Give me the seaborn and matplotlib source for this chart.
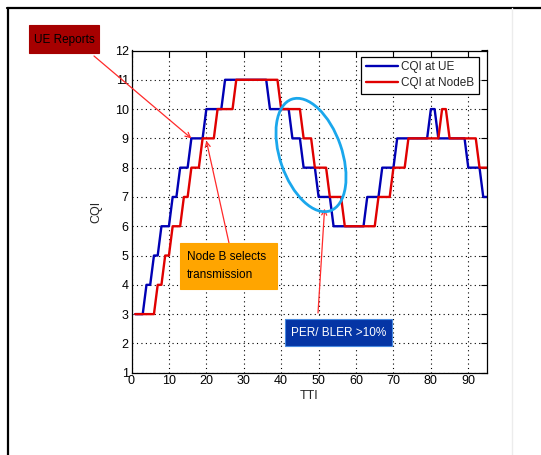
import matplotlib
matplotlib.use("Agg")
import matplotlib.pyplot as plt
import pandas as pd
import seaborn as sns
from matplotlib.patches import Ellipse, Rectangle
from matplotlib.lines import Line2D
from matplotlib.transforms import IdentityTransform

# ---------------- data ----------------
tti = list(range(1, 96))
cqi_ue = [3, 3, 3, 4, 4, 5, 5, 6, 6, 6,
          7, 7, 8, 8, 8, 9, 9, 9, 9, 10,
          10, 10, 10, 10, 11, 11, 11, 11, 11, 11,
          11, 11, 11, 11, 11, 11, 10, 10, 10, 10,
          10, 10, 9, 9, 9, 8, 8, 8, 8, 7,
          7, 7, 7, 6, 6, 6, 6, 6, 6, 6,
          6, 6, 7, 7, 7, 7, 8, 8, 8, 8,
          9, 9, 9, 9, 9, 9, 9, 9, 9, 10,
          10, 9, 9, 9, 9, 9, 9, 9, 9, 8,
          8, 8, 8, 7, 7]
cqi_nodeb = [3, 3, 3, 3, 3, 3, 4, 4, 5, 5,
             6, 6, 6, 7, 7, 8, 8, 8, 9, 9,
             9, 9, 10, 10, 10, 10, 10, 11, 11, 11,
             11, 11, 11, 11, 11, 11, 11, 11, 11, 10,
             10, 10, 10, 10, 10, 9, 9, 9, 8, 8,
             8, 8, 7, 7, 7, 7, 6, 6, 6, 6,
             6, 6, 6, 6, 6, 7, 7, 7, 7, 8,
             8, 8, 8, 9, 9, 9, 9, 9, 9, 9,
             9, 9, 10, 10, 9, 9, 9, 9, 9, 9,
             9, 9, 8, 8, 8]
series_names = ["CQI at UE", "CQI at NodeB"]
series_colors = ["#0000b4", "#e00000"]
x_ticks = [0, 10, 20, 30, 40, 50, 60, 70, 80, 90]
y_ticks = [1, 2, 3, 4, 5, 6, 7, 8, 9, 10, 11, 12]
label_ue = "UE Reports"
label_nodeb = "Node B selects\ntransmission"
label_per = "PER/ BLER >10%"

df = pd.DataFrame({
    "TTI": tti + tti,
    "CQI": cqi_ue + cqi_nodeb,
    "series": [series_names[0]] * len(tti) + [series_names[1]] * len(tti),
})

# ---------------- style ----------------
sns.set_style("white")
plt.rcParams["font.family"] = ["Liberation Sans", "DejaVu Sans"]

W, H = 541, 455
fig = plt.figure(figsize=(W / 100, H / 100), dpi=100)
fig.patch.set_facecolor("white")

L, R, T, B = 131.5, 487.0, 50.5, 372.7
ax = fig.add_axes([L / W, 1 - B / H, (R - L) / W, (B - T) / H])

sns.lineplot(data=df, x="TTI", y="CQI", hue="series",
             palette=dict(zip(series_names, series_colors)),
             hue_order=series_names, linewidth=1.7, ax=ax, legend=False)

ax.set_xlim(0, 95)
ax.set_ylim(1, 12)
ax.set_xticks(x_ticks)
ax.set_yticks(y_ticks)
ax.grid(True, linestyle=(0, (1, 3)), color="black", linewidth=0.8)
ax.tick_params(direction="in", top=True, right=True, length=4, width=0.8,
               labelsize=9, pad=2, colors="black")
for s in ax.spines.values():
    s.set_color("black")
    s.set_linewidth(0.9)
ax.set_xlabel("TTI", fontsize=9, labelpad=2)
ax.set_ylabel("CQI", fontsize=9, labelpad=9)

handles = [Line2D([0], [0], color=c, lw=1.7) for c in series_colors]
leg = ax.legend(handles, series_names, loc="upper right",
                bbox_to_anchor=(0.978, 0.981), borderaxespad=0,
                fancybox=False, edgecolor="black", framealpha=1,
                fontsize=8.5, handlelength=2.7, handletextpad=0.3,
                borderpad=0.4, labelspacing=0.3)
leg.get_frame().set_linewidth(0.9)

# ---------------- annotations (figure pixel coords, y from top) ----------------
ident = IdentityTransform()


def P(x, y):
    return (x, H - y)


def box(x0, y0, x1, y1, color, ec=None):
    fig.add_artist(Rectangle(P(x0, y1), x1 - x0, y1 - y0, transform=ident,
                             facecolor=color, edgecolor=ec or color, lw=0.8))


# outer frame
fig.add_artist(Line2D([7, W], [H - 8, H - 8], transform=ident, color="black", lw=1.6))
fig.add_artist(Line2D([8, 8], [0, H - 8], transform=ident, color="black", lw=1.6))
fig.add_artist(Line2D([512, 512], [0, H - 8], transform=ident, color="#ececec", lw=1))

# UE reports
box(29, 25, 99, 53, "#a60000")
fig.text(*P(64, 39.5), label_ue, transform=ident, ha="center", va="center",
         fontsize=8.5, color="black")
ax.annotate("", xy=(16, 9), xycoords="data", xytext=P(94, 56),
            textcoords="figure pixels",
            arrowprops=dict(arrowstyle="->", color="#ff2a2a", lw=0.9,
                            shrinkA=0, shrinkB=0, mutation_scale=9))

# Node B selects
box(180, 243, 277, 289, "#ffa500")
fig.text(*P(187, 266), label_nodeb, transform=ident, ha="left", va="center",
         fontsize=8.5, color="black", linespacing=1.6)
ax.annotate("", xy=(20, 8.92), xycoords="data", xytext=P(229, 243),
            textcoords="figure pixels",
            arrowprops=dict(arrowstyle="->", color="#ff2a2a", lw=0.9,
                            shrinkA=0, shrinkB=0, mutation_scale=9))

# PER / BLER
box(285, 319, 392, 346, "#0535a5", ec="#4a8be0")
fig.text(*P(338.5, 333), label_per, transform=ident, ha="center", va="center",
         fontsize=8.5, color="white")
ax.annotate("", xy=(51.6, 6.6), xycoords="data", xytext=P(318, 313),
            textcoords="figure pixels",
            arrowprops=dict(arrowstyle="->", color="#ff2a2a", lw=0.9,
                            shrinkA=0, shrinkB=0, mutation_scale=9))

# cyan ellipse
fig.add_artist(Ellipse(P(311, 155), width=118, height=62, angle=-71,
                       transform=ident, facecolor="none",
                       edgecolor="#1aa7ec", lw=2.0))

fig.savefig("out.png", dpi=100)
